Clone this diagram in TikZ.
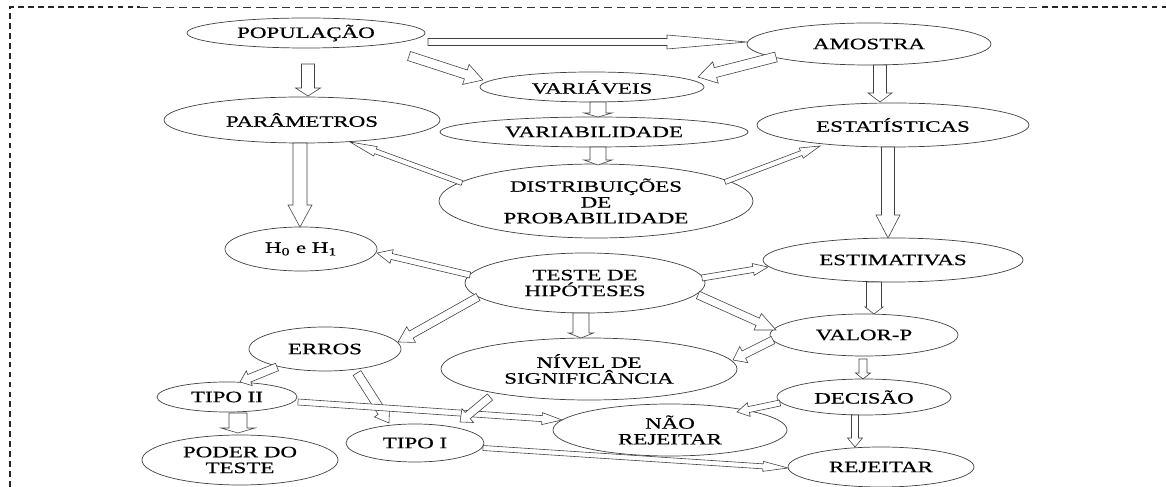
\documentclass[tikz,border=0pt]{standalone}
\usepackage{fontspec}
\setmainfont[FakeStretch=1.45,FakeBold=0.6]{Liberation Serif}
\usepackage{tikz}
\usetikzlibrary{shapes.geometric,calc}

\tikzset{
  elli/.style={ellipse, draw=black!75, line width=0.6pt, inner sep=0pt,
    align=center, font=\fontsize{13.5}{13.5}\selectfont},
  sz/.style 2 args={minimum width={#1*0.85358pt}, minimum height={#2*0.85358pt}},
  fatarrow/.style={draw=black!75, fill=white, line width=0.5pt, line join=miter},
  frameline/.style={black!85, line width=1.3pt, dash pattern=on 5pt off 3.5pt},
  thinframe/.style={black!80, line width=0.6pt, dash pattern=on 7pt off 4pt}
}
\def\pxu{0.85358}

% hollow block arrow: tail, tip, shaft half width, head half width, head length (px)
\newcommand{\blockarrow}[5]{%
  \path[fatarrow] let \p1=(#1), \p2=(#2),
      \n1={atan2(\y2-\y1,\x2-\x1)},
      \n2={veclen(\x2-\x1,\y2-\y1)} in
    [shift={(\p1)}, rotate=\n1]
    (0pt,{-#3*\pxu*1pt}) -- ({\n2-#5*\pxu*1pt},{-#3*\pxu*1pt})
    -- ({\n2-#5*\pxu*1pt},{-#4*\pxu*1pt}) -- (\n2,0pt)
    -- ({\n2-#5*\pxu*1pt},{#4*\pxu*1pt}) -- ({\n2-#5*\pxu*1pt},{#3*\pxu*1pt})
    -- (0pt,{#3*\pxu*1pt}) -- cycle;}

\begin{document}
\begin{tikzpicture}[x=0.03cm,y=-0.03cm]
\useasboundingbox (0,0) rectangle (1166,487);
\draw[frameline] (10,487) -- (10,7) -- (140,7);
\draw[thinframe] (140,7) -- (1042,7);
\draw[frameline] (1042,7) -- (1166,7);

\node[elli,sz={238}{30}] (pop) at (306,33) {POPULAÇÃO};
\node[elli,sz={244}{42}] (amo) at (869,44) {AMOSTRA};
\node[elli,sz={224}{30}] (var) at (592,87) {VARIÁVEIS};
\node[elli,sz={276}{46}] (par) at (302,120) {PARÂMETROS};
\node[elli,sz={308}{30}] (vbl) at (594,132) {VARIABILIDADE};
\node[elli,sz={272}{44}] (est) at (893,125) {ESTATÍSTICAS};
\node[elli,sz={314}{74}] (dist) at (596,201) {DISTRIBUIÇÕES\\DE\\PROBABILIDADE};
\node[elli,sz={152}{44}] (hip) at (301,249) {H\textsubscript{0} e H\textsubscript{1}};
\node[elli,sz={240}{60}] (tst) at (585,283) {TESTE DE\\HIPÓTESES};
\node[elli,sz={260}{44}] (estm) at (893,260) {ESTIMATIVAS};
\node[elli,sz={188}{42}] (vp) at (864,335) {VALOR-P};
\node[elli,sz={152}{44}] (err) at (325,349) {ERROS};
\node[elli,sz={296}{62}] (niv) at (589,369) {NÍVEL DE\\SIGNIFICÂNCIA};
\node[elli,sz={174}{36}] (dec) at (864,397) {DECISÃO};
\node[elli,sz={140}{30}] (t2) at (227,397) {TIPO II};
\node[elli,sz={234}{52}] (nrej) at (670,430) {NÃO\\REJEITAR};
\node[elli,sz={138}{38}] (t1) at (415,443) {TIPO I};
\node[elli,sz={196}{50}] (pod) at (240,460) {PODER DO\\TESTE};
\node[elli,sz={186}{40}] (rej) at (881,467) {REJEITAR};

% top part
\blockarrow{$(pop)+(2,31)$}{$(par)+(6,-24)$}{6.5}{12.5}{8}
\blockarrow{$(pop)+(122,9)$}{$(amo)+(-122,-2)$}{3.5}{7}{80}
\blockarrow{$(pop)+(103,23)$}{$(var)+(-109,-7)$}{4.7}{10.5}{18}
\blockarrow{$(amo)+(-93,13)$}{$(var)+(106,-10)$}{5}{11}{18}
\blockarrow{$(var)+(6,15)$}{$(vbl)+(4,-15)$}{8}{14}{4}
\blockarrow{$(vbl)+(4,15)$}{$(dist)+(2,-36)$}{8}{14}{5}
\blockarrow{$(par)+(-2,23)$}{$(hip)+(-1,-22)$}{7}{12}{22}
\blockarrow{$(amo)+(11,21)$}{$(est)+(-13,-23)$}{6.5}{12}{9}
\blockarrow{$(est)+(-5,22)$}{$(estm)+(-5,-22)$}{6.5}{12}{23}
\blockarrow{$(dist)+(-134,-18)$}{$(par)+(48,22)$}{2.5}{5}{27}
\blockarrow{$(dist)+(129,-19)$}{$(est)+(-73,21)$}{2.5}{5.5}{20}

% test part
\blockarrow{$(tst)+(-115,-8)$}{$(hip)+(76,4)$}{3}{7}{15}
\blockarrow{$(tst)+(117,-5)$}{$(estm)+(-125,7)$}{3}{6}{15}
\blockarrow{$(tst)+(-107,14)$}{$(err)+(73,-7)$}{4}{9}{15}
\blockarrow{$(tst)+(-4,30)$}{$(niv)+(-8,-31)$}{8}{12.5}{5}
\blockarrow{$(tst)+(113,12)$}{$(vp)+(-88,-5)$}{4}{9}{20}
\blockarrow{$(estm)+(-19,22)$}{$(vp)+(10,-21)$}{7.5}{9}{7}
\blockarrow{$(vp)+(-91,5)$}{$(niv)+(144,-9)$}{4}{9}{12}
\blockarrow{$(vp)+(-1,24)$}{$(dec)+(-1,-18)$}{4}{7.5}{6}
\blockarrow{$(dec)+(-84,6)$}{$(nrej)+(67,-18)$}{3}{7}{12}
\blockarrow{$(dec)+(-9,18)$}{$(rej)+(-26,-20)$}{3.5}{7.5}{9}

% errors
\blockarrow{$(err)+(-48,18)$}{$(t2)+(13,-15)$}{4}{8}{10}
\blockarrow{$(err)+(32,24)$}{$(t1)+(-26,-20)$}{4.5}{9}{13}
\blockarrow{$(t2)+(71,5)$}{$(nrej)+(-108,-10)$}{3}{6}{20}
\blockarrow{$(t2)+(11,16)$}{$(pod)+(-2,-27)$}{9}{17}{5}
\blockarrow{$(niv)+(-99,28)$}{$(t1)+(45,-21)$}{4}{9}{10}
\blockarrow{$(t1)+(68,5)$}{$(rej)+(-93,1)$}{2.5}{5}{25}
\end{tikzpicture}
\end{document}
